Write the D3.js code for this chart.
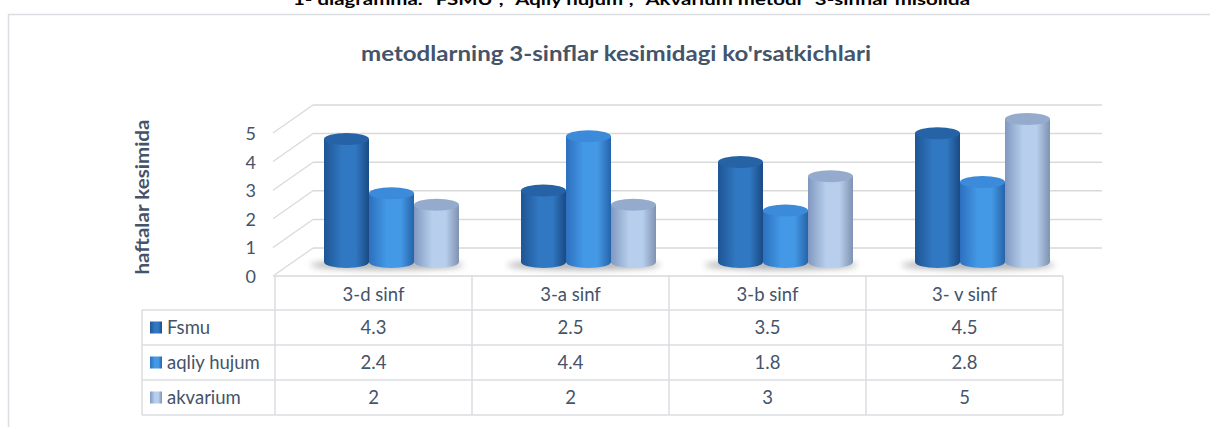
<!DOCTYPE html>
<html>
<head>
<meta charset="utf-8">
<script src="https://cdn.jsdelivr.net/npm/d3@7"></script>
<style>
  html, body { margin: 0; padding: 0; background: #fff; }
  svg { display: block; }
</style>
</head>
<body>
<svg id="chart" width="1210" height="427"></svg>
<script>
// ---------- data ----------
const categories = ["3-d sinf", "3-a sinf", "3-b sinf", "3- v sinf"];
const seriesNames = ["Fsmu", "aqliy hujum", "akvarium"];
const fsmu = [4.3, 2.5, 3.5, 4.5];
const aqliyHujum = [2.4, 4.4, 1.8, 2.8];
const akvarium = [2, 2, 3, 5];
const yTicks = [0, 1, 2, 3, 4, 5];
const headingText = '1- diagramma. "FSMU", "Aqliy hujum", "Akvarium metodi" 3-sinflar misolida';
const chartTitle = "metodlarning 3-sinflar kesimidagi ko'rsatkichlari";
const yAxisTitle = "haftalar kesimida";

const seriesValues = [fsmu, aqliyHujum, akvarium];

// ---------- styles ----------
const FONT = "Lato, 'Open Sans', sans-serif";
const TEXT = "#44546A";
const GRID = "#D9D9D9";
const palette = [
  { edge: "#1E5594", mid: "#3178C2", dark: "#1A4A84", top: "#2562A6" },
  { edge: "#2C70BE", mid: "#4499E6", dark: "#2663AA", top: "#3B8BDA" },
  { edge: "#8098C0", mid: "#B7CFEC", dark: "#7F92B2", top: "#95ABCD" }
];

const svg = d3.select("#chart");
const defs = svg.append("defs");

palette.forEach((p, i) => {
  const g = defs.append("linearGradient").attr("id", "cyl" + i)
    .attr("x1", "0").attr("x2", "1").attr("y1", "0").attr("y2", "0");
  g.append("stop").attr("offset", "0%").attr("stop-color", p.edge);
  g.append("stop").attr("offset", "40%").attr("stop-color", p.mid);
  g.append("stop").attr("offset", "70%").attr("stop-color", p.mid);
  g.append("stop").attr("offset", "100%").attr("stop-color", p.dark);
});
defs.append("filter").attr("id", "blur").attr("x", "-50%").attr("y", "-200%")
  .attr("width", "200%").attr("height", "500%")
  .append("feGaussianBlur").attr("stdDeviation", 3);

// ---------- frame & headings ----------
svg.append("path")
  .attr("d", "M8.5,427 L8.5,14.5 L1210,14.5")
  .attr("fill", "none").attr("stroke", "#DADDE2").attr("stroke-width", 1.5);

svg.append("text")
  .attr("x", 293).attr("y", 5)
  .attr("textLength", 677).attr("lengthAdjust", "spacingAndGlyphs")
  .attr("font-family", FONT).attr("font-weight", "bold").attr("font-size", 16)
  .attr("fill", "#000").text(headingText);

svg.append("text")
  .attr("x", 361).attr("y", 61)
  .attr("textLength", 510).attr("lengthAdjust", "spacingAndGlyphs")
  .attr("font-family", FONT).attr("font-weight", "bold").attr("font-size", 20)
  .attr("fill", TEXT).text(chartTitle);

svg.append("text")
  .attr("transform", "translate(149,197) rotate(-90)")
  .attr("text-anchor", "middle")
  .attr("textLength", 155).attr("lengthAdjust", "spacingAndGlyphs")
  .attr("font-family", FONT).attr("font-weight", "bold").attr("font-size", 19)
  .attr("fill", TEXT).text(yAxisTitle);

// ---------- 3D geometry ----------
const tableLeft = 142, colLeft = 275, colRight = 1063;
const depthX = 40;                 // floor depth shift (front -> back)
const x0 = d3.scaleBand().domain(categories).range([colLeft, colRight]);
const barW = 45;
const x1 = d3.scaleBand().domain(seriesNames).range([0, barW * 3]);
const yFront = d3.scaleLinear().domain([0, 5]).range([276, 133]);
const yBack  = d3.scaleLinear().domain([0, 5]).range([248, 105]);
const yBar   = d3.scaleLinear().domain([0, 5]).range([262, 119]);

// back wall gridlines + side wall diagonals
const grid = svg.append("g");
yTicks.forEach(t => {
  grid.append("line")
    .attr("x1", colLeft + depthX - 2).attr("x2", colRight + depthX - 1)
    .attr("y1", yBack(t)).attr("y2", yBack(t))
    .attr("stroke", GRID).attr("stroke-width", 1.5);
  grid.append("line")
    .attr("x1", colLeft - 2).attr("y1", yFront(t))
    .attr("x2", colLeft + depthX - 2).attr("y2", yBack(t))
    .attr("stroke", GRID).attr("stroke-width", 1.2);
});
// floor front edge
grid.append("line")
  .attr("x1", colLeft - 2).attr("x2", colRight)
  .attr("y1", yFront(0)).attr("y2", yFront(0))
  .attr("stroke", "#E4E2E0").attr("stroke-width", 2);

// y tick labels
svg.append("g").selectAll("text").data(yTicks).join("text")
  .attr("x", 256).attr("y", d => yFront(d) + 7)
  .attr("text-anchor", "end")
  .attr("font-family", FONT).attr("font-size", 18)
  .attr("fill", TEXT).text(d => d);

// ---------- bars (cylinders) ----------
const ry = 6;
const barOffset = depthX / 2 - 2;
const groups = svg.append("g").selectAll("g").data(categories).join("g")
  .attr("transform", d => `translate(${x0(d) + (x0.bandwidth() - barW * 3) / 2 + barOffset},0)`);

// base shadows
groups.append("ellipse")
  .attr("cx", barW * 1.4).attr("cy", yBar(0) + 3)
  .attr("rx", barW * 1.7).attr("ry", 5)
  .attr("fill", "#555").attr("opacity", 0.45)
  .attr("filter", "url(#blur)");

seriesNames.forEach((s, si) => {
  groups.each(function(cat, ci) {
    const v = seriesValues[si][ci];
    const g = d3.select(this).append("g");
    const xl = x1(s), w = x1.bandwidth();
    const cx = xl + w / 2;
    const yTop = yBar(v), yBot = yBar(0);
    g.append("path")
      .attr("d", `M${xl},${yTop} L${xl},${yBot} A${w / 2},${ry} 0 0 0 ${xl + w},${yBot} L${xl + w},${yTop} Z`)
      .attr("fill", `url(#cyl${si})`);
    g.append("ellipse")
      .attr("cx", cx).attr("cy", yTop).attr("rx", w / 2).attr("ry", ry)
      .attr("fill", palette[si].top);
  });
});

// ---------- data table ----------
const rowTop = 276, headerBottom = 310, rowH = 35;
const TSIZE = 18.5;
const table = svg.append("g");
const lineStyle = sel => sel.attr("stroke", "#DADDE2").attr("stroke-width", 1.5);

// vertical lines
x0.domain().forEach(c => {
  table.append("line").attr("x1", x0(c)).attr("x2", x0(c))
    .attr("y1", rowTop).attr("y2", headerBottom + rowH * 3).call(lineStyle);
});
table.append("line").attr("x1", colRight).attr("x2", colRight)
  .attr("y1", rowTop).attr("y2", headerBottom + rowH * 3).call(lineStyle);
table.append("line").attr("x1", tableLeft).attr("x2", tableLeft)
  .attr("y1", headerBottom).attr("y2", headerBottom + rowH * 3).call(lineStyle);
// horizontal lines
[0, 1, 2, 3].forEach(i => {
  table.append("line").attr("x1", tableLeft).attr("x2", colRight)
    .attr("y1", headerBottom + rowH * i).attr("y2", headerBottom + rowH * i).call(lineStyle);
});

// header labels
table.selectAll("text.cat").data(categories).join("text")
  .attr("class", "cat")
  .attr("x", d => x0(d) + x0.bandwidth() / 2).attr("y", 301)
  .attr("text-anchor", "middle")
  .attr("font-family", FONT).attr("font-size", TSIZE)
  .attr("fill", TEXT).text(d => d);

// rows
seriesNames.forEach((s, si) => {
  const yc = headerBottom + rowH * si + rowH / 2;
  table.append("rect")
    .attr("x", 150).attr("y", yc - 6).attr("width", 12).attr("height", 12)
    .attr("fill", `url(#cyl${si})`);
  table.append("text")
    .attr("x", 167).attr("y", yc + 6.5)
    .attr("font-family", FONT).attr("font-size", TSIZE)
    .attr("fill", TEXT).text(s);
  table.selectAll(null).data(seriesValues[si]).join("text")
    .attr("x", (d, i) => x0(categories[i]) + x0.bandwidth() / 2).attr("y", yc + 6.5)
    .attr("text-anchor", "middle")
    .attr("font-family", FONT).attr("font-size", TSIZE)
    .attr("fill", TEXT).text(d => d);
});
</script>
</body>
</html>
